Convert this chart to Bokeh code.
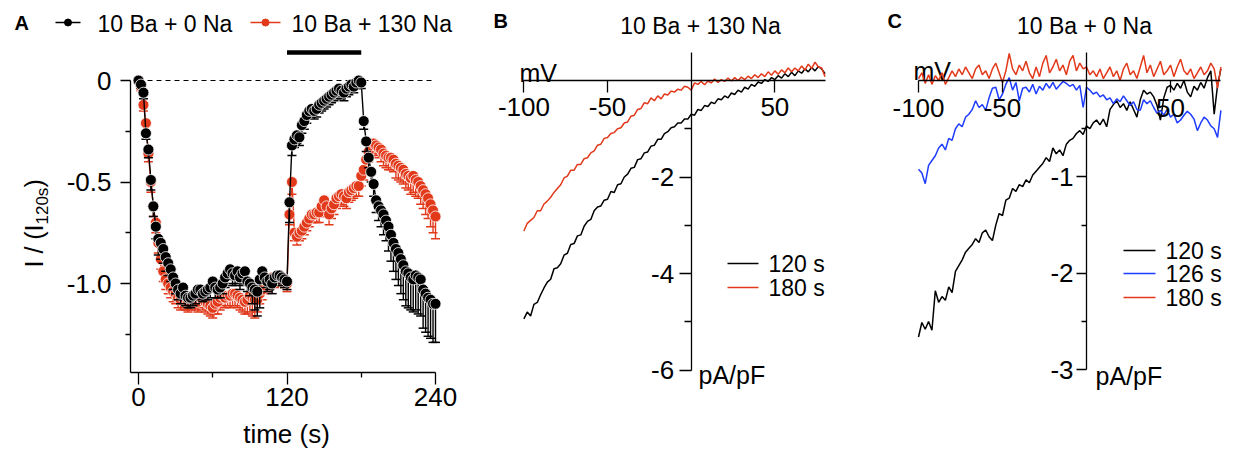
import math
from bokeh.plotting import figure
from bokeh.layouts import row
from bokeh.models import FixedTicker, Range1d
from bokeh.core.properties import value
from bokeh.embed import file_html
from bokeh.resources import INLINE

FONT = "Liberation Sans"
RED = "#e2391b"
BLUE = "#1f3cff"
BLACK = "#000000"

# ---------------- data ----------------
time_s = [0, 2, 4, 6, 8, 10, 12, 14, 16, 18, 20, 22, 24, 26, 28, 30, 32, 34, 36, 38,
          40, 42, 44, 46, 48, 50, 52, 54, 56, 58, 60, 62, 64, 66, 68, 70, 72, 74, 76, 78,
          80, 82, 84, 86, 88, 90, 92, 94, 96, 98, 100, 102, 104, 106, 108, 110, 112, 114, 116, 118,
          120, 122, 124, 126, 128, 130, 132, 134, 136, 138, 140, 142, 144, 146, 148, 150, 152, 154, 156, 158,
          160, 162, 164, 166, 168, 170, 172, 174, 176, 178, 180, 182, 184, 186, 188, 190, 192, 194, 196, 198,
          200, 202, 204, 206, 208, 210, 212, 214, 216, 218, 220, 222, 224, 226, 228, 230, 232, 234, 236, 238, 240]

ba0na_mean = [0.00, -0.02, -0.06, -0.26, -0.34, -0.49, -0.62, -0.72, -0.78, -0.80,
              -0.83, -0.87, -0.90, -0.93, -0.97, -1.00, -1.03, -1.05, -1.02, -1.06,
              -1.07, -1.07, -1.06, -1.05, -1.03, -1.03, -1.05, -1.04, -1.03, -1.02,
              -0.99, -1.02, -1.03, -1.02, -1.00, -0.97, -0.95, -0.93, -0.95, -0.96,
              -0.94, -0.97, -0.95, -0.94, -0.99, -1.00, -1.02, -1.03, -1.04, -0.98,
              -0.94, -0.97, -0.99, -0.98, -1.00, -0.97, -0.96, -0.96, -0.97, -0.98,
              -0.99, -0.60, -0.32, -0.29, -0.27, -0.28, -0.22, -0.20, -0.17, -0.15,
              -0.14, -0.15, -0.14, -0.12, -0.11, -0.10, -0.09, -0.08, -0.07, -0.06,
              -0.05, -0.04, -0.05, -0.06, -0.04, -0.03, -0.02, -0.03, -0.01, 0.00,
              -0.01, -0.20, -0.30, -0.38, -0.45, -0.51, -0.59, -0.62, -0.64, -0.66,
              -0.69, -0.72, -0.76, -0.80, -0.83, -0.85, -0.88, -0.91, -0.94, -0.95,
              -0.97, -0.98, -0.96, -0.97, -0.98, -1.03, -1.05, -1.07, -1.08, -1.10,
              -1.10]
ba0na_err = [0.00, 0.02, 0.03, 0.03, 0.04, 0.05, 0.05, 0.06, 0.08, 0.08,
             0.07, 0.07, 0.06, 0.06, 0.06, 0.05, 0.05, 0.05, 0.05, 0.05,
             0.05, 0.05, 0.05, 0.05, 0.04, 0.05, 0.04, 0.04, 0.05, 0.05,
             0.05, 0.05, 0.04, 0.05, 0.05, 0.05, 0.05, 0.05, 0.06, 0.05,
             0.06, 0.06, 0.06, 0.06, 0.05, 0.06, 0.08, 0.10, 0.12, 0.14,
             0.06, 0.05, 0.05, 0.05, 0.05, 0.04, 0.04, 0.04, 0.04, 0.04,
             0.04, 0.10, 0.05, 0.04, 0.04, 0.04, 0.04, 0.04, 0.04, 0.03,
             0.04, 0.04, 0.04, 0.04, 0.04, 0.04, 0.04, 0.04, 0.04, 0.04,
             0.04, 0.04, 0.04, 0.04, 0.04, 0.04, 0.03, 0.03, 0.03, 0.03,
             0.03, 0.04, 0.05, 0.05, 0.05, 0.06, 0.06, 0.07, 0.08, 0.10,
             0.10, 0.12, 0.13, 0.14, 0.15, 0.16, 0.17, 0.17, 0.17, 0.17,
             0.16, 0.16, 0.17, 0.18, 0.18, 0.19, 0.19, 0.19, 0.19, 0.19,
             0.19]
ba130na_mean = [0.00, -0.03, -0.12, -0.21, -0.36, -0.50, -0.62, -0.70, -0.80, -0.88,
                -0.94, -0.98, -1.00, -1.02, -1.04, -1.05, -1.07, -1.08, -1.07, -1.08,
                -1.09, -1.08, -1.07, -1.08, -1.09, -1.07, -1.08, -1.09, -1.10, -1.11,
                -1.12, -1.10, -1.09, -1.07, -1.06, -1.07, -1.06, -1.06, -1.05, -1.05,
                -1.06, -1.07, -1.08, -1.09, -1.08, -1.06, -1.07, -1.08, -1.08, -1.05,
                -1.03, -1.01, -1.00, -0.99, -0.97, -0.98, -0.97, -0.96, -0.97, -0.98,
                -1.00, -0.66, -0.50, -0.75, -0.77, -0.75, -0.74, -0.72, -0.70, -0.68,
                -0.66, -0.66, -0.65, -0.65, -0.62, -0.59, -0.62, -0.66, -0.63, -0.61,
                -0.58, -0.57, -0.56, -0.57, -0.58, -0.55, -0.54, -0.53, -0.52, -0.52,
                -0.47, -0.44, -0.39, -0.35, -0.32, -0.31, -0.32, -0.33, -0.34, -0.36,
                -0.37, -0.38, -0.38, -0.39, -0.41, -0.42, -0.43, -0.44, -0.46, -0.47,
                -0.48, -0.47, -0.49, -0.50, -0.52, -0.54, -0.56, -0.58, -0.61, -0.64,
                -0.67]
ba130na_err = [0.00, 0.02, 0.03, 0.04, 0.04, 0.05, 0.05, 0.05, 0.05, 0.05,
               0.05, 0.05, 0.05, 0.05, 0.05, 0.05, 0.05, 0.05, 0.05, 0.05,
               0.05, 0.05, 0.05, 0.05, 0.05, 0.05, 0.05, 0.05, 0.05, 0.05,
               0.05, 0.05, 0.06, 0.06, 0.05, 0.05, 0.05, 0.06, 0.06, 0.06,
               0.06, 0.06, 0.06, 0.06, 0.07, 0.08, 0.09, 0.09, 0.06, 0.05,
               0.05, 0.04, 0.04, 0.04, 0.04, 0.04, 0.04, 0.04, 0.04, 0.04,
               0.04, 0.05, 0.06, 0.04, 0.04, 0.04, 0.04, 0.04, 0.04, 0.04,
               0.04, 0.04, 0.05, 0.05, 0.05, 0.05, 0.05, 0.05, 0.05, 0.05,
               0.05, 0.05, 0.05, 0.05, 0.05, 0.05, 0.05, 0.05, 0.05, 0.05,
               0.05, 0.05, 0.05, 0.05, 0.05, 0.05, 0.05, 0.05, 0.06, 0.06,
               0.06, 0.06, 0.06, 0.06, 0.07, 0.07, 0.07, 0.07, 0.07, 0.07,
               0.08, 0.08, 0.08, 0.08, 0.09, 0.09, 0.10, 0.10, 0.11, 0.11,
               0.11]
series_a_labels = ["10 Ba + 0 Na", "10 Ba + 130 Na"]

mv = [-100, -98, -96, -94, -92, -90, -88, -86, -84, -82, -80, -78, -76, -74, -72, -70, -68, -66, -64, -62,
      -60, -58, -56, -54, -52, -50, -48, -46, -44, -42, -40, -38, -36, -34, -32, -30, -28, -26, -24, -22,
      -20, -18, -16, -14, -12, -10, -8, -6, -4, -2, 0, 2, 4, 6, 8, 10, 12, 14, 16, 18,
      20, 22, 24, 26, 28, 30, 32, 34, 36, 38, 40, 42, 44, 46, 48, 50, 52, 54, 56, 58,
      60, 62, 64, 66, 68, 70, 72, 74, 76, 78, 80]

b_120s = [-4.94, -4.80, -4.88, -4.64, -4.60, -4.44, -4.30, -4.18, -4.12, -3.90,
          -3.88, -3.80, -3.62, -3.58, -3.40, -3.38, -3.22, -3.20, -3.02, -2.92,
          -2.88, -2.70, -2.62, -2.60, -2.48, -2.46, -2.30, -2.32, -2.16, -2.14,
          -2.00, -1.94, -1.82, -1.80, -1.64, -1.62, -1.50, -1.48, -1.36, -1.34,
          -1.22, -1.22, -1.10, -1.06, -0.98, -0.96, -0.88, -0.88, -0.80, -0.80,
          -0.70, -0.72, -0.60, -0.62, -0.52, -0.54, -0.45, -0.48, -0.38, -0.40,
          -0.32, -0.36, -0.26, -0.29, -0.20, -0.24, -0.14, -0.18, -0.08, -0.12,
          -0.03, -0.06, 0.02, -0.02, 0.06, 0.02, 0.10, 0.05, 0.14, 0.08,
          0.17, 0.10, 0.20, 0.15, 0.24, 0.18, 0.27, 0.20, 0.29, 0.24,
          0.14]
b_180s = [-3.12, -2.96, -2.90, -2.84, -2.70, -2.70, -2.56, -2.50, -2.42, -2.32,
          -2.24, -2.16, -2.02, -1.98, -1.86, -1.86, -1.74, -1.74, -1.62, -1.60,
          -1.50, -1.46, -1.34, -1.32, -1.20, -1.18, -1.10, -1.08, -1.00, -0.98,
          -0.88, -0.86, -0.74, -0.72, -0.60, -0.58, -0.46, -0.48, -0.36, -0.42,
          -0.32, -0.38, -0.28, -0.30, -0.22, -0.24, -0.18, -0.20, -0.12, -0.14,
          -0.20, -0.05, -0.08, -0.02, -0.09, -0.01, -0.05, 0.03, -0.04, 0.02,
          -0.02, 0.05, -0.01, 0.06, 0.00, 0.07, 0.02, 0.09, 0.04, 0.12,
          0.06, 0.14, 0.08, 0.18, 0.11, 0.20, 0.13, 0.22, 0.16, 0.26,
          0.18, 0.26, 0.20, 0.30, 0.22, 0.34, 0.25, 0.38, 0.28, 0.26,
          0.08]
c_120s = [-2.66, -2.51, -2.58, -2.50, -2.59, -2.18, -2.30, -2.24, -2.28, -2.14,
          -2.20, -1.98, -1.92, -1.86, -1.78, -1.74, -1.70, -1.64, -1.68, -1.58,
          -1.55, -1.62, -1.66, -1.50, -1.38, -1.40, -1.24, -1.22, -1.12, -1.15,
          -1.08, -1.10, -1.03, -1.06, -0.98, -0.94, -0.90, -0.86, -0.80, -0.84,
          -0.70, -0.76, -0.72, -0.78, -0.66, -0.62, -0.60, -0.55, -0.52, -0.56,
          -0.47, -0.50, -0.44, -0.41, -0.46, -0.40, -0.48, -0.30, -0.25, -0.21,
          -0.28, -0.24, -0.31, -0.22, -0.30, -0.38, -0.20, -0.10, -0.14, -0.12,
          -0.17, -0.26, -0.41, -0.18, -0.07, -0.05, -0.10, -0.03, -0.08, 0.00,
          -0.12, -0.17, -0.06, -0.10, -0.02, -0.08, 0.03, 0.10, -0.35, -0.05,
          0.12]
c_126s = [-0.92, -0.96, -1.07, -0.88, -0.83, -0.78, -0.70, -0.66, -0.72, -0.60,
          -0.62, -0.50, -0.45, -0.48, -0.38, -0.35, -0.30, -0.21, -0.28, -0.25,
          -0.31, -0.18, -0.08, -0.07, -0.20, -0.14, -0.04, 0.03, -0.10, -0.02,
          -0.21, -0.08, -0.07, -0.12, -0.04, -0.14, -0.06, -0.10, -0.03, -0.08,
          -0.02, -0.09, -0.05, -0.01, -0.03, -0.06, -0.04, -0.10, -0.05, -0.28,
          -0.07, -0.10, -0.14, -0.12, -0.17, -0.15, -0.20, -0.18, -0.24, -0.19,
          -0.22, -0.16, -0.21, -0.26, -0.22, -0.30, -0.31, -0.20, -0.24, -0.21,
          -0.28, -0.34, -0.31, -0.36, -0.30, -0.38, -0.35, -0.44, -0.41, -0.36,
          -0.32, -0.35, -0.40, -0.52, -0.44, -0.38, -0.41, -0.47, -0.50, -0.59,
          -0.31]
c_180s = [0.02, 0.08, -0.03, 0.06, -0.04, 0.05, 0.00, 0.08, -0.04, 0.03,
          0.10, 0.04, 0.12, 0.06, 0.14, 0.08, 0.02, 0.12, 0.16, 0.06,
          0.10, 0.02, 0.12, 0.18, 0.08, -0.02, 0.10, 0.28, 0.12, 0.06,
          0.16, 0.10, 0.20, 0.08, 0.02, 0.14, 0.04, 0.18, 0.26, 0.08,
          0.14, 0.22, 0.10, 0.16, 0.06, 0.20, 0.26, 0.10, 0.18, 0.12,
          0.14, 0.06, 0.10, 0.04, 0.12, 0.02, 0.08, 0.14, 0.04, 0.10,
          0.00, 0.12, 0.18, 0.06, 0.10, 0.02, 0.14, 0.26, 0.08, 0.16,
          0.04, 0.12, 0.20, 0.06, 0.10, 0.16, 0.04, 0.14, 0.22, 0.10,
          0.06, 0.12, 0.02, 0.08, 0.14, 0.06, 0.10, 0.18, 0.12, -0.08,
          0.14]

b_labels = ["120 s", "180 s"]
c_labels = ["120 s", "126 s", "180 s"]

a_xticks, a_xminor, a_xlabels = [0, 120, 240], [60, 180], ["0", "120", "240"]
a_yticks, a_yminor, a_ylabels = [0, -0.5, -1.0], [-0.25, -0.75, -1.25], ["0", "-0.5", "-1.0"]
b_xticks, b_xlabels = [-100, -50, 50], ["-100", "-50", "50"]
b_yticks, b_yminor, b_ylabels = [-6, -4, -2], [-5, -3, -1], ["-6", "-4", "-2"]
c_xticks, c_xlabels = [-100, -50, 50], ["-100", "-50", "50"]
c_yticks, c_yminor, c_ylabels = [-3, -2, -1], [-2.5, -1.5, -0.5], ["-3", "-2", "-1"]

# ---------------- layout helpers (page pixel coordinates) ----------------
TOP, H = 0, 449


def make_panel(left, width, x0px, xscale, y0py, yscale):
    """x0px / y0py: page pixel of data zero, xscale / yscale: pixels per unit."""
    xr = Range1d((left - x0px) / xscale, (left + width - x0px) / xscale)
    yr = Range1d((y0py - (TOP + H)) / yscale, (y0py - TOP) / yscale)
    p = figure(width=width, height=H, x_range=xr, y_range=yr, output_backend="svg",
               toolbar_location=None, tools="", min_border=0)
    p.outline_line_color = None
    p.grid.visible = False
    p.background_fill_color = "white"
    p.border_fill_color = "white"

    def fx(px):
        return (px - x0px) / xscale

    def fy(py):
        return (y0py - py) / yscale
    return p, fx, fy


def style_axis(ax, loc, bounds, ticks, minor, labels, tick_out, minor_out, standoff, size="26px"):
    ax.fixed_location = loc
    ax.bounds = bounds
    ax.ticker = FixedTicker(ticks=ticks, minor_ticks=minor)
    ax.major_label_overrides = {t: l for t, l in zip(ticks, labels)}
    ax.major_tick_out = tick_out
    ax.major_tick_in = 0
    ax.minor_tick_out = minor_out
    ax.minor_tick_in = 0
    ax.axis_line_color = BLACK
    ax.axis_line_width = 1.3
    ax.major_tick_line_width = 1.3
    ax.minor_tick_line_width = 1.3
    ax.major_tick_line_color = BLACK
    ax.minor_tick_line_color = BLACK
    ax.major_label_text_font = FONT
    ax.major_label_text_font_size = size
    ax.major_label_text_color = BLACK
    ax.major_label_standoff = standoff
    ax.axis_label = None


def txt(p, x, y, s, size, align="left", baseline="middle", bold=False, angle=0.0, color=BLACK):
    p.text(x=[x], y=[y], text=[s], text_font=value(FONT), text_font_size=size,
           text_align=align, text_baseline=baseline, angle=angle,
           text_font_style="bold" if bold else "normal", text_color=color)


# ---------------- panel A ----------------
pa, ax_, ay_ = make_panel(0, 478, 138.0, 1.2375, 80.0, 203.0)
style_axis(pa.xaxis[0], ay_(372), (ax_(130), 240), a_xticks, a_xminor, a_xlabels, 12, 5, 3)
style_axis(pa.yaxis[0], ax_(130), (ay_(372), 0), a_yticks, a_yminor, a_ylabels, 10, 5, 9)

pa.line(x=[0, 240], y=[0, 0], line_color=BLACK, line_width=1.2, line_dash="5 4")
pa.line(x=[120, 180], y=[ay_(52), ay_(52)], line_color=BLACK, line_width=4.5)

for mean, err, col in ((ba130na_mean, ba130na_err, RED), (ba0na_mean, ba0na_err, BLACK)):
    lows = [m - e for m, e in zip(mean, err)]
    pa.segment(x0=time_s, y0=mean, x1=time_s, y1=lows, line_color=col, line_width=1.4)
    pa.scatter(x=time_s, y=lows, marker="dash", size=9, line_color=col, line_width=1.5)
    pa.line(x=time_s, y=mean, line_color=col, line_width=1.4)
    pa.scatter(x=time_s, y=mean, marker="circle", size=11, fill_color=col,
               line_color="white", line_width=0.8)

# legend A
for (x1, x2, tx), col, lab in zip(((55, 80, 97), (250, 280, 291)), (BLACK, RED), series_a_labels):
    pa.line(x=[ax_(x1), ax_(x2)], y=[ay_(22), ay_(22)], line_color=col, line_width=1.4)
    pa.scatter(x=[ax_((x1 + x2) / 2)], y=[ay_(22)], marker="circle", size=7, fill_color=col, line_color=col)
    txt(pa, ax_(tx), ay_(23), lab, "23px")
txt(pa, ax_(14), ay_(22), "A", "20px", bold=True)

# axis labels A
txt(pa, ax_(286), ay_(433), "time (s)", "26px", align="center")
txt(pa, ax_(33), ay_(267), "I / (I", "25px", baseline="alphabetic", angle=math.pi / 2)
txt(pa, ax_(42), ay_(224), "120s", "17px", baseline="alphabetic", angle=math.pi / 2)
txt(pa, ax_(33), ay_(187), ")", "25px", baseline="alphabetic", angle=math.pi / 2)

# ---------------- panel B ----------------
pb, bx, by = make_panel(478, 382, 690.7, 1.673, 80.0, 48.25)
style_axis(pb.xaxis[0], 0, (-100, bx(825)), b_xticks, [], b_xlabels, 12, 0, 5)
style_axis(pb.yaxis[0], 0, (-6, by(52)), b_yticks, b_yminor, b_ylabels, 12, 7, 5)
pb.line(x=mv, y=b_120s, line_color=BLACK, line_width=1.5)
pb.line(x=mv, y=b_180s, line_color=RED, line_width=1.5)
for ypx, col, lab in zip((263, 287), (BLACK, RED), b_labels):
    pb.line(x=[bx(727), bx(758)], y=[by(ypx), by(ypx)], line_color=col, line_width=1.5)
    txt(pb, bx(768), by(ypx), lab, "23px")
txt(pb, bx(519), by(72), "mV", "25px", baseline="alphabetic")
txt(pb, bx(698), by(374), "pA/pF", "25px", baseline="alphabetic")
txt(pb, bx(700), by(25), "10 Ba + 130 Na", "23px", align="center")
txt(pb, bx(493), by(20), "B", "20px", bold=True)

# ---------------- panel C ----------------
pc, cx, cy = make_panel(860, 376, 1086.0, 1.68, 80.0, 96.43)
style_axis(pc.xaxis[0], 0, (-100, cx(1220)), c_xticks, [], c_xlabels, 12, 0, 6)
style_axis(pc.yaxis[0], 0, (-3, cy(52)), c_yticks, c_yminor, c_ylabels, 10, 5, 3)
txt(pc, cx(913), cy(70), "mV", "25px", baseline="alphabetic")
pc.line(x=mv, y=c_120s, line_color=BLACK, line_width=1.5)
pc.line(x=mv, y=c_126s, line_color=BLUE, line_width=1.5)
pc.line(x=mv, y=c_180s, line_color=RED, line_width=1.5)
for ypx, col, lab in zip((250, 273, 297), (BLACK, BLUE, RED), c_labels):
    pc.line(x=[cx(1123), cx(1155)], y=[cy(ypx), cy(ypx)], line_color=col, line_width=1.5)
    txt(pc, cx(1165), cy(ypx), lab, "23px")
txt(pc, cx(1095), cy(375), "pA/pF", "25px", baseline="alphabetic")
txt(pc, cx(1084), cy(25), "10 Ba + 0 Na", "23px", align="center")
txt(pc, cx(887), cy(20), "C", "20px", bold=True)

layout = row(pa, pb, pc, spacing=0)
open("out.html", "w").write(file_html(layout, INLINE))
